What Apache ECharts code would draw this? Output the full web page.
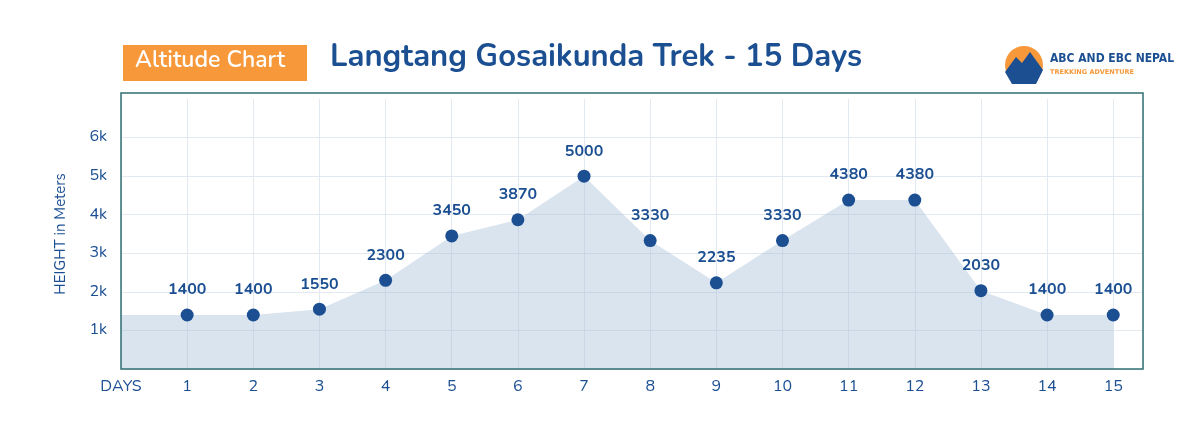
<!DOCTYPE html>
<html>
<head>
<meta charset="utf-8">
<script src="https://cdn.jsdelivr.net/npm/echarts@6/dist/echarts.min.js"></script>
<style>html,body{margin:0;padding:0;background:#fff}#chart{width:1200px;height:432px}</style>
</head>
<body>
<div id="chart"></div>
<script>
var days = [0, 1, 2, 3, 4, 5, 6, 7, 8, 9, 10, 11, 12, 13, 14, 15];
var heights = [1400, 1400, 1400, 1550, 2300, 3450, 3870, 5000, 3330, 2235, 3330, 4380, 4380, 2030, 1400, 1400];
var yTicks = ['', '1k', '2k', '3k', '4k', '5k', '6k'];

(function () {
    var myChart = echarts.init(document.getElementById('chart'));
    var font = 'Nunito, "Noto Sans", sans-serif';
    var data = days.map(function (d, i) {
        var item = { value: [d, heights[i]] };
        if (i === 0) {
            item.symbolSize = 0;
            item.label = { show: false };
        }
        return item;
    });
    var option = {
        backgroundColor: '#fff',
        grid: { left: 121, right: 57, top: 99, bottom: 63, show: false },
        graphic: [
            { type: 'rect', shape: { x: 121, y: 93, width: 1022, height: 276 }, style: { fill: 'none', stroke: '#2f6f72', lineWidth: 1.5 }, z: 10 },
            { type: 'rect', left: 123, top: 45, shape: { width: 184, height: 36 }, style: { fill: '#f7983a' } },
            { type: 'text', left: 135, top: 50, style: { text: 'Altitude Chart', fill: '#fff', font: '600 23px ' + font } },
            { type: 'text', left: 330, top: 43, style: { text: 'Langtang Gosaikunda Trek - 15 Days', fill: '#1b4f92', font: 'bold 31px ' + font } },
            { type: 'circle', shape: { cx: 1024, cy: 65, r: 19 }, style: { fill: '#f7983a' } },
            { type: 'polygon', shape: { points: [[1005, 72], [1016, 57], [1022, 63], [1030, 52], [1043, 70], [1036, 84], [1012, 84]] }, style: { fill: '#1b4f92' } },
            { type: 'text', left: 1050, top: 53, style: { text: 'ABC AND EBC NEPAL', fill: '#1b4f92', font: 'bold 12px "DejaVu Sans Condensed", sans-serif' } },
            { type: 'text', left: 1050, top: 69, style: { text: 'TREKKING ADVENTURE', fill: '#f7983a', font: 'bold 6.5px "DejaVu Sans", sans-serif' } }
        ],
        xAxis: {
            type: 'value', min: 0, max: 15.45, interval: 1,
            axisLine: { show: false },
            axisTick: { show: false },
            axisLabel: {
                color: '#1b4f92', fontSize: 16, fontFamily: font, margin: 10, showMaxLabel: false,
                formatter: function (v) { return v === 0 ? 'DAYS' : (Number.isInteger(v) ? String(v) : ''); }
            },
            splitLine: { show: true, lineStyle: { color: '#e3e9f1' } }
        },
        yAxis: {
            type: 'value', min: 0, max: 7000, interval: 1000,
            name: 'HEIGHT in Meters', nameLocation: 'middle', nameGap: 52,
            nameTextStyle: { color: '#1b4f92', fontSize: 15, fontFamily: font },
            axisLine: { show: false }, axisTick: { show: false },
            axisLabel: {
                color: '#1b4f92', fontSize: 16, fontFamily: font, margin: 14, showMaxLabel: false,
                formatter: function (v) { return yTicks[v / 1000] || ''; }
            },
            splitLine: {
                lineStyle: { color: '#e3e9f1' },
                showMaxLine: false
            }
        },
        series: [{
            type: 'line', data: data,
            symbol: 'circle', symbolSize: 13,
            itemStyle: { color: '#1b4f92' },
            lineStyle: { width: 0 },
            areaStyle: { color: 'rgba(160,184,213,0.55)', origin: 'start' },
            label: { show: true, position: 'top', distance: 10, color: '#1b4f92', fontSize: 16, fontWeight: 'bold', fontFamily: font,
                formatter: function (p) { return p.value[1]; } }
        }]
    };
    myChart.setOption(option);
})();
</script>
</body>
</html>
